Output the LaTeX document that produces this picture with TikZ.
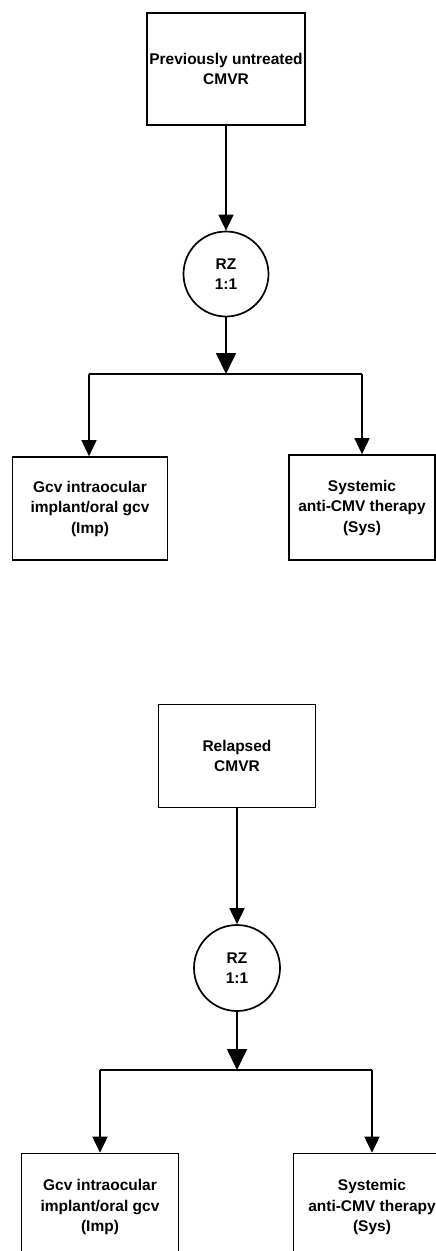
\documentclass[tikz,border=0pt]{standalone}
\usepackage{fontspec}
\setmainfont{Liberation Sans}
\usetikzlibrary{arrows.meta}

\begin{document}
\begin{tikzpicture}[x=1pt,y=-1pt,line width=1.7pt,
  >={Triangle[length=16pt,width=15pt]},
  font=\fontsize{15.5}{20.5}\selectfont\bfseries,
  box/.style={draw,rectangle,align=center,inner sep=0pt,
    minimum width=157pt,minimum height=105pt},
  rz/.style={draw,circle,align=center,inner sep=0pt,minimum size=85pt},
  bigtip/.style={-{Triangle[length=21pt,width=20pt]}}]
  \useasboundingbox (0,0) rectangle (436,1251);

  % ================= previously untreated (top) =================
  \node[box,minimum width=158pt,minimum height=112pt] (untr) at (226,69)
    {Previously untreated\\CMVR};
  \node[rz] (rzA) at (226,274) {RZ\\1:1};
  \coordinate (barAm) at (226,374);
  \coordinate (barAl) at (89,374);
  \coordinate (barAr) at (362,374);
  \node[box,minimum width=155pt,minimum height=103pt] (impA) at (90,508.5)
    {Gcv intraocular\\implant/oral gcv\\(Imp)};
  \node[box,minimum width=146pt] (sysA) at (362,507.5)
    {Systemic\\anti-CMV therapy\\(Sys)};

  \draw[->] (untr) -- (rzA);
  \draw[bigtip] (rzA) -- (barAm);
  \draw (barAl) -- (barAr);
  \draw[->] (barAl) -- (barAl |- impA.north);
  \draw[->] (barAr) -- (sysA);

  % ================= relapsed (bottom) =================
  \node[box,minimum height=103pt] (relap) at (237,756) {Relapsed\\CMVR};
  \node[rz,minimum size=86pt] (rzB) at (237,968) {RZ\\1:1};
  \coordinate (barBm) at (237,1070);
  \coordinate (barBl) at (100,1070);
  \coordinate (barBr) at (372,1070);
  \node[box,minimum height=107pt] (impB) at (100,1207)
    {Gcv intraocular\\implant/oral gcv\\(Imp)};
  \node[box,minimum height=107pt] (sysB) at (372,1207)
    {Systemic\\anti-CMV therapy\\(Sys)};

  \draw[->] (relap) -- (rzB);
  \draw[bigtip] (rzB) -- (barBm);
  \draw (barBl) -- (barBr);
  \draw[->] (barBl) -- (impB);
  \draw[->] (barBr) -- (sysB);
\end{tikzpicture}
\end{document}
